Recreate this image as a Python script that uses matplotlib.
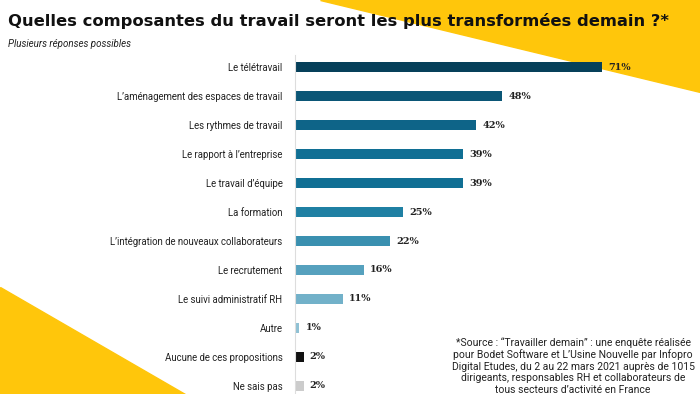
import matplotlib
matplotlib.use("Agg")
import matplotlib.pyplot as plt
from matplotlib.patches import Polygon

categories = [
    "Le télétravail",
    "L’aménagement des espaces de travail",
    "Les rythmes de travail",
    "Le rapport à l’entreprise",
    "Le travail d’équipe",
    "La formation",
    "L’intégration de nouveaux collaborateurs",
    "Le recrutement",
    "Le suivi administratif RH",
    "Autre",
    "Aucune de ces propositions",
    "Ne sais pas",
]
values = [71, 48, 42, 39, 39, 25, 22, 16, 11, 1, 2, 2]
colors = ["#06405a", "#0b5676", "#0e6488", "#106f94", "#106f94", "#1f80a3",
          "#3a90b0", "#56a1be", "#72b1c9", "#8fc1d4", "#111111", "#cccccc"]

title = "Quelles composantes du travail seront les plus transformées demain ?*"
subtitle = "Plusieurs réponses possibles"
source = ("*Source : “Travailler demain” : une enquête réalisée\n"
          "pour Bodet Software et L’Usine Nouvelle par Infopro\n"
          "Digital Etudes, du 2 au 22 mars 2021 auprès de 1015\n"
          "dirigeants, responsables RH et collaborateurs de\n"
          "tous secteurs d’activité en France")

W, H = 700, 394
fig = plt.figure(figsize=(7, 3.94), dpi=100)
yellow = "#ffc60b"
fig.patches.append(Polygon([(320 / W, 1), (1, 1), (1, 1 - 92 / H)], closed=True,
                           transform=fig.transFigure, color=yellow, zorder=-5))
fig.patches.append(Polygon([(0, 1 - 287 / H), (0, 0), (185 / W, 0)], closed=True,
                           transform=fig.transFigure, color=yellow, zorder=-5))

ax = fig.add_axes([295 / W, 0, 400 / W, (394 - 55) / H])
ax.set_zorder(2)
ax.patch.set_alpha(0)
y = list(range(len(categories)))
ax.barh(y, values, height=0.36, color=colors)
ax.set_xlim(0, 400 / 4.32)
ax.set_ylim(11.276, -0.414)
for s in ["top", "right", "bottom"]:
    ax.spines[s].set_visible(False)
ax.spines["left"].set_color("#dddddd")
ax.spines["left"].set_linewidth(0.8)
ax.set_xticks([])
ax.set_yticks(y)
ax.set_yticklabels(categories, fontsize=6.9, family="Roboto", color="#222222")
ax.tick_params(axis="y", length=0, pad=9)

for yi, v in zip(y, values):
    ax.text(v + 1.4, yi, f"{v}%", va="center", ha="left", fontsize=7,
            family="DejaVu Serif", fontweight="bold", color="#222222")

fig.text(8 / W, 1 - 21 / H, title, fontsize=11.8, fontweight="bold",
         family="DejaVu Sans", va="center", ha="left", color="#111111")
fig.text(8 / W, 1 - 44 / H, subtitle, fontsize=7, style="italic",
         family="Roboto", va="center", ha="left", color="#222222")
fig.text(573 / W, 1 - 366 / H, source, fontsize=7.5, family="Roboto",
         va="center", ha="center", multialignment="center",
         linespacing=1.2, color="#222222")

fig.savefig("out.png", dpi=100)
